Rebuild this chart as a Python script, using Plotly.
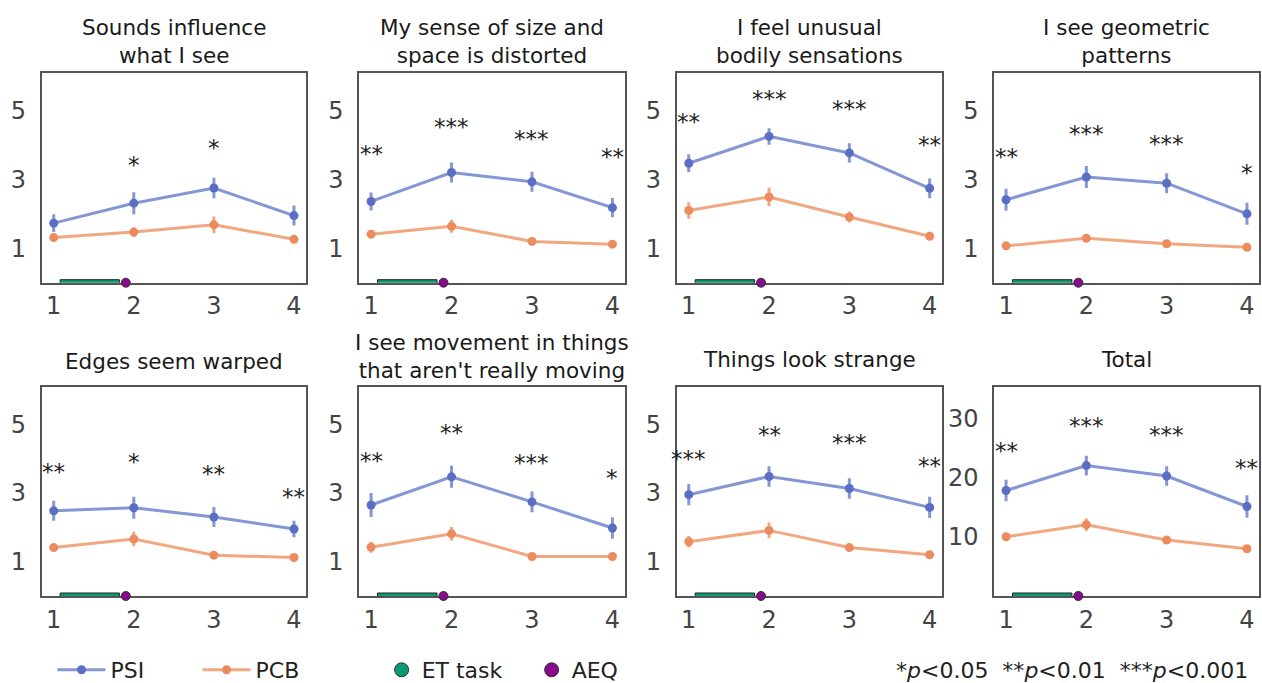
import plotly.graph_objects as go

# ---------------- data ----------------
sessions = [1, 2, 3, 4]
tick_labels = ["1", "2", "3", "4"]

titles = [
    "Sounds influence<br>what I see",
    "My sense of size and<br>space is distorted",
    "I feel unusual<br>bodily sensations",
    "I see geometric<br>patterns",
    "Edges seem warped",
    "I see movement in things<br>that aren't really moving",
    "Things look strange",
    "Total",
]

psi_sounds = [1.73, 2.31, 2.75, 1.95]
psi_size = [2.36, 3.20, 2.93, 2.18]
psi_bodily = [3.47, 4.25, 3.77, 2.74]
psi_geometric = [2.41, 3.07, 2.89, 2.00]
psi_edges = [2.48, 2.57, 2.30, 1.95]
psi_movement = [2.65, 3.47, 2.74, 1.98]
psi_strange = [2.95, 3.48, 3.13, 2.58]
psi_total = [17.8, 22.0, 20.25, 15.1]

psi_sounds_err = [0.26, 0.32, 0.30, 0.29]
psi_size_err = [0.26, 0.29, 0.29, 0.28]
psi_bodily_err = [0.26, 0.24, 0.28, 0.29]
psi_geometric_err = [0.32, 0.32, 0.29, 0.32]
psi_edges_err = [0.29, 0.32, 0.29, 0.24]
psi_movement_err = [0.35, 0.32, 0.30, 0.31]
psi_strange_err = [0.31, 0.30, 0.30, 0.31]
psi_total_err = [1.8, 1.66, 1.63, 1.89]

pcb_sounds = [1.31, 1.47, 1.68, 1.26]
pcb_size = [1.41, 1.64, 1.20, 1.12]
pcb_bodily = [2.10, 2.49, 1.91, 1.35]
pcb_geometric = [1.07, 1.29, 1.13, 1.03]
pcb_edges = [1.41, 1.66, 1.19, 1.12]
pcb_movement = [1.42, 1.81, 1.15, 1.15]
pcb_strange = [1.58, 1.91, 1.41, 1.20]
pcb_total = [10.0, 12.03, 9.44, 7.97]

pcb_sounds_err = [0.12, 0.14, 0.24, 0.07]
pcb_size_err = [0.07, 0.19, 0.06, 0.06]
pcb_bodily_err = [0.24, 0.27, 0.16, 0.06]
pcb_geometric_err = [0.05, 0.06, 0.05, 0.05]
pcb_edges_err = [0.07, 0.21, 0.05, 0.05]
pcb_movement_err = [0.16, 0.20, 0.05, 0.05]
pcb_strange_err = [0.17, 0.23, 0.06, 0.05]
pcb_total_err = [0.4, 1.07, 0.4, 0.3]

stars_sounds = ["", "*", "*", ""]
stars_size = ["**", "***", "***", "**"]
stars_bodily = ["**", "***", "***", "**"]
stars_geometric = ["**", "***", "***", "*"]
stars_edges = ["**", "*", "**", "**"]
stars_movement = ["**", "**", "***", "*"]
stars_strange = ["***", "**", "***", "**"]
stars_total = ["**", "***", "***", "**"]

stars_y_sounds = [0, 3.61, 4.13, 0]
stars_y_size = [3.93, 4.72, 4.38, 3.86]
stars_y_bodily = [4.87, 5.53, 5.24, 4.20]
stars_y_geometric = [3.84, 4.51, 4.24, 3.38]
stars_y_edges = [3.82, 4.11, 3.75, 3.08]
stars_y_movement = [4.13, 4.94, 4.08, 3.64]
stars_y_strange = [4.20, 4.89, 4.65, 3.98]
stars_y_total = [25.7, 29.9, 28.3, 22.85]

et_task_span = [1.08, 1.82]
aeq_session = [1.9]

item_ticks = [1, 3, 5]
total_ticks = [10, 20, 30]

psi = [psi_sounds, psi_size, psi_bodily, psi_geometric, psi_edges, psi_movement, psi_strange, psi_total]
psi_err = [psi_sounds_err, psi_size_err, psi_bodily_err, psi_geometric_err, psi_edges_err,
           psi_movement_err, psi_strange_err, psi_total_err]
pcb = [pcb_sounds, pcb_size, pcb_bodily, pcb_geometric, pcb_edges, pcb_movement, pcb_strange, pcb_total]
pcb_err = [pcb_sounds_err, pcb_size_err, pcb_bodily_err, pcb_geometric_err, pcb_edges_err,
           pcb_movement_err, pcb_strange_err, pcb_total_err]
stars = [stars_sounds, stars_size, stars_bodily, stars_geometric, stars_edges, stars_movement,
         stars_strange, stars_total]
stars_y = [stars_y_sounds, stars_y_size, stars_y_bodily, stars_y_geometric, stars_y_edges,
           stars_y_movement, stars_y_strange, stars_y_total]

# ---------------- style / layout ----------------
W, H = 1262, 683
FONT = "DejaVu Sans"
PSI_LINE = "rgba(112,132,206,0.85)"
PSI_MARK = "rgb(90,110,196)"
PCB_LINE = "rgba(240,158,114,0.9)"
PCB_MARK = "rgb(236,140,94)"
GREEN = "#0a9a73"
PURPLE = "#8a0a8e"
FRAME = "#555555"

cols_px = [(41.7, 306.0), (359.0, 624.5), (676.7, 941.7), (994.0, 1259.0)]
rows_px = [(72.7, 282.7), (386.5, 596.0)]
title_y_px = [41, 41, 41, 41, 361.5, 356.5, 359.5, 359.5]

fig = go.Figure()
annotations = []
shapes = []

for i in range(8):
    r, c = divmod(i, 4)
    sfx = "" if i == 0 else str(i + 1)
    xa, ya = "x" + sfx, "y" + sfx
    is_total = i == 7
    ymax = 35.35 if is_total else 6.1

    fig.add_trace(go.Scatter(
        x=sessions, y=pcb[i], mode="lines+markers", name="PCB",
        line=dict(color=PCB_LINE, width=3), marker=dict(color=PCB_MARK, size=9),
        error_y=dict(type="data", array=pcb_err[i], thickness=3, width=0, color=PCB_LINE),
        xaxis=xa, yaxis=ya, showlegend=False))
    fig.add_trace(go.Scatter(
        x=sessions, y=psi[i], mode="lines+markers", name="PSI",
        line=dict(color=PSI_LINE, width=3), marker=dict(color=PSI_MARK, size=9),
        error_y=dict(type="data", array=psi_err[i], thickness=3, width=0, color=PSI_LINE),
        xaxis=xa, yaxis=ya, showlegend=False))

    # significance stars
    for s, sy, sx in zip(stars[i], stars_y[i], sessions):
        if s:
            annotations.append(dict(x=sx, y=sy, xref=xa, yref=ya, text=s, showarrow=False,
                                    font=dict(family=FONT, size=23, color="#222222"),
                                    xanchor="center", yanchor="middle", yshift=-7))

    # ET task bar + AEQ marker
    shapes.append(dict(type="rect", xref=xa, yref=ya, x0=et_task_span[0], x1=et_task_span[1],
                       ysizemode="pixel", yanchor=0, y0=-3, y1=3,
                       fillcolor=GREEN, line=dict(color="#222222", width=1), layer="above"))
    fig.add_trace(go.Scatter(
        x=aeq_session, y=[0], mode="markers", name="AEQ", cliponaxis=False,
        marker=dict(color=PURPLE, size=9, line=dict(color="#333333", width=1)),
        xaxis=xa, yaxis=ya, showlegend=False, hoverinfo="skip"))

    x0, x1 = cols_px[c]
    y0, y1 = rows_px[r]
    fig.layout["xaxis" + sfx] = dict(
        domain=[x0 / W, x1 / W], anchor=ya, range=[0.85, 4.15],
        tickvals=sessions, ticktext=tick_labels, ticks="", showgrid=False, zeroline=False,
        showline=True, mirror=True, linecolor=FRAME, linewidth=1.5, layer="below traces",
        tickfont=dict(family=FONT, size=24, color="#444444"), ticklabelstandoff=1)
    fig.layout["yaxis" + sfx] = dict(
        domain=[1 - y1 / H, 1 - y0 / H], anchor=xa, range=[0, ymax],
        tickvals=total_ticks if is_total else item_ticks, ticks="", showgrid=False,
        zeroline=False, showline=True, mirror=True, linecolor=FRAME, linewidth=1.5,
        layer="below traces",
        tickfont=dict(family=FONT, size=24, color="#444444"), ticklabelstandoff=9)

    annotations.append(dict(x=(x0 + x1) / 2 / W, y=1 - title_y_px[i] / H, xref="paper", yref="paper",
                            text=titles[i], showarrow=False, xanchor="center", yanchor="middle",
                            font=dict(family=FONT, size=21.5, color="#1a1a1a")))

# legend entries
fig.add_trace(go.Scatter(x=[None], y=[None], mode="lines+markers", name="PSI",
                         line=dict(color=PSI_LINE, width=3), marker=dict(color=PSI_MARK, size=9),
                         legend="legend", showlegend=True))
fig.add_trace(go.Scatter(x=[None], y=[None], mode="lines+markers", name="PCB",
                         line=dict(color=PCB_LINE, width=3), marker=dict(color=PCB_MARK, size=9),
                         legend="legend", showlegend=True))
fig.add_trace(go.Scatter(x=[None], y=[None], mode="markers", name="ET task",
                         marker=dict(color=GREEN, size=14, line=dict(color="#333333", width=1)),
                         legend="legend2", showlegend=True))
fig.add_trace(go.Scatter(x=[None], y=[None], mode="markers", name="AEQ",
                         marker=dict(color=PURPLE, size=14, line=dict(color="#333333", width=1)),
                         legend="legend2", showlegend=True))

annotations.append(dict(x=1250 / W, y=1 - 670 / H, xref="paper", yref="paper", xanchor="right",
                        yanchor="middle", showarrow=False,
                        text="*<i>p</i><0.05\u00a0\u00a0**<i>p</i><0.01\u00a0\u00a0***<i>p</i><0.001",
                        font=dict(family=FONT, size=22, color="#222222")))

legend_font = dict(family=FONT, size=22, color="#222222")
fig.update_layout(
    width=W, height=H, margin=dict(l=0, r=0, t=0, b=0, autoexpand=False),
    paper_bgcolor="white", plot_bgcolor="white",
    font=dict(family=FONT),
    annotations=annotations, shapes=shapes,
    legend=dict(orientation="h", x=0.0416, y=1 - 670 / H, xanchor="left", yanchor="middle",
                font=legend_font, itemwidth=48, entrywidth=82, bgcolor="rgba(0,0,0,0)"),
    legend2=dict(orientation="h", x=0.3024, y=1 - 670 / H, xanchor="left", yanchor="middle",
                 font=legend_font, entrywidth=105, bgcolor="rgba(0,0,0,0)"),
)

fig.write_html("out.html", config={"displayModeBar": False},
               post_script="document.body.style.margin='0px';")
